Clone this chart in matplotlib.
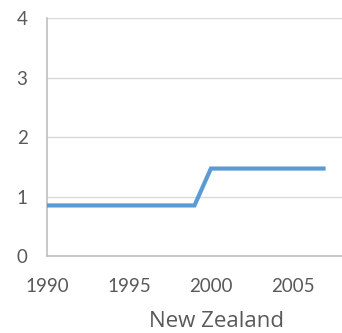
import matplotlib
matplotlib.use("Agg")
import matplotlib.pyplot as plt

# Series values by year
years = list(range(1990, 2008))
values = [0.85] * 10 + [1.47] * 8
x_ticks = [1990, 1995, 2000, 2005]
y_ticks = [0, 1, 2, 3, 4]
title = "New Zealand"

plt.rcParams['font.family'] = ['Lato', 'DejaVu Sans']
text_color = "#595959"

fig = plt.figure(figsize=(3.42, 3.33), dpi=100)
ax = fig.add_axes([0.1374, 0.2312, 0.8626, 0.7147])

ax.plot(years, values, color="#5b9bd5", linewidth=3.0, solid_capstyle="butt",
        solid_joinstyle="miter", zorder=3)

ax.set_xlim(1990, 2008)
ax.set_ylim(0, 4)
ax.set_xticks(x_ticks)
ax.set_yticks(y_ticks)
ax.grid(axis="y", color="#d9d9d9", linewidth=1.0)
ax.set_axisbelow(True)

for s in ["top", "right"]:
    ax.spines[s].set_visible(False)
for s in ["left", "bottom"]:
    ax.spines[s].set_color("#bfbfbf")
    ax.spines[s].set_linewidth(1.2)

ax.tick_params(axis="both", length=0, labelsize=13.5, colors=text_color)
ax.tick_params(axis="y", pad=14)
ax.tick_params(axis="x", pad=16)

fig.text(0.634, 0.018, title, ha="center", va="baseline", fontsize=16,
         color=text_color, family=['Open Sans', 'DejaVu Sans'])

fig.savefig("out.png", dpi=100)
